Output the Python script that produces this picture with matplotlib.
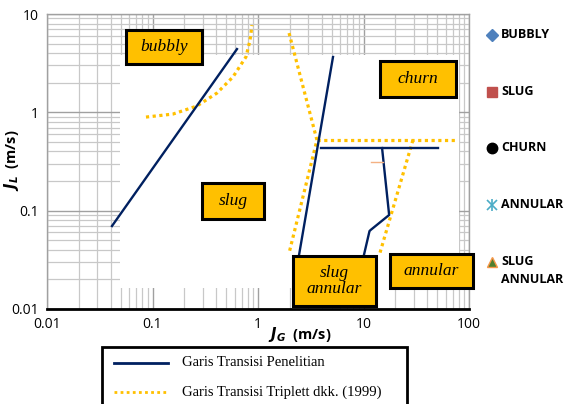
import matplotlib
matplotlib.use("Agg")
import matplotlib.pyplot as plt
from matplotlib.patches import Rectangle
from matplotlib.lines import Line2D
from matplotlib.ticker import LogLocator, NullFormatter, FixedLocator, FixedFormatter

# ---- data ----
xticks = [0.01, 0.1, 1, 10, 100]
xtick_labels = ["0.01", "0.1", "1", "10", "100"]
yticks = [0.01, 0.1, 1, 10]
ytick_labels = ["0.01", "0.1", "1", "10"]

# study transition lines (navy)
bs_x = [0.0413, 0.632]
bs_y = [0.0698, 4.4]
sc_x = [2.45, 5.14]
sc_y = [0.0355, 3.66]
ch_x = [3.95, 50.8]
ch_y = [0.433, 0.433]
ca_x = [15.0, 17.5, 11.7, 11.4, 10.1]
ca_y = [0.433, 0.0904, 0.0637, 0.062, 0.0355]

# small orange tick
or_x = [11.8, 15.3]
or_y = [0.312, 0.312]

# Triplett et al. (1999) transition lines (dotted gold)
tb_x = [0.0867, 0.156, 0.264, 0.408, 0.579, 0.769, 0.84, 0.877]
tb_y = [0.895, 0.96, 1.16, 1.57, 2.29, 3.66, 5.4, 7.7]
ts_x = [1.97, 3.62, 1.97]
ts_y = [6.4, 0.522, 0.037]
tc_x = [3.62, 73.6]
tc_y = [0.522, 0.522]
ta_x = [29.4, 14.3]
ta_y = [0.522, 0.037]

region_labels = ["bubbly", "slug", "churn", "slug\nannular", "annular"]
legend_labels = ["BUBBLY", "SLUG", "CHURN", "ANNULAR", "SLUG\nANNULAR"]
line_labels = ["Garis Transisi Penelitian", "Garis Transisi Triplett dkk. (1999)"]

NAVY = "#002060"
GOLD = "#FFC000"

W, H = 565, 404
fig = plt.figure(figsize=(W / 100, H / 100), dpi=100)
ax = fig.add_axes([47 / W, 1 - 309 / H, (469 - 47) / W, (309 - 14) / H])
ax.set_xscale("log")
ax.set_yscale("log")
ax.set_xlim(0.01, 100)
ax.set_ylim(0.01, 10)

ax.xaxis.set_major_locator(FixedLocator(xticks))
ax.xaxis.set_major_formatter(FixedFormatter(xtick_labels))
ax.yaxis.set_major_locator(FixedLocator(yticks))
ax.yaxis.set_major_formatter(FixedFormatter(ytick_labels))
ax.xaxis.set_minor_locator(LogLocator(base=10, subs=range(2, 10)))
ax.yaxis.set_minor_locator(LogLocator(base=10, subs=range(2, 10)))
ax.xaxis.set_minor_formatter(NullFormatter())
ax.yaxis.set_minor_formatter(NullFormatter())
ax.tick_params(which="both", length=0, labelsize=10, pad=6)
for lab in ax.get_xticklabels() + ax.get_yticklabels():
    lab.set_fontfamily("Open Sans")

ax.grid(which="major", color="#A0A0A0", linewidth=1.0, zorder=0)
ax.grid(which="minor", color="#C8C8C8", linewidth=0.9, zorder=0)
ax.set_axisbelow(True)

for s in ["left", "top", "right"]:
    ax.spines[s].set_color("#A0A0A0")
    ax.spines[s].set_linewidth(1.0)
ax.spines["bottom"].set_color("black")
ax.spines["bottom"].set_linewidth(2.0)

# white pasted area covering the grid
ax.add_patch(Rectangle((0.049, 0.0164), 80 - 0.049, 3.83 - 0.0164,
                       facecolor="white", edgecolor="none", zorder=1))

lw = 1.7
l1, = ax.plot(bs_x, bs_y, color=NAVY, lw=lw, zorder=3)
ax.plot(sc_x, sc_y, color=NAVY, lw=lw, zorder=3)
ax.plot(ch_x, ch_y, color=NAVY, lw=lw, zorder=3)
ax.plot(ca_x, ca_y, color=NAVY, lw=lw, zorder=3)
ax.plot(or_x, or_y, color="#F4B183", lw=1.0, zorder=3)

dlw = 2.3
dotted = []
for xs, ys_ in [(tb_x, tb_y), (ts_x, ts_y), (tc_x, tc_y), (ta_x, ta_y)]:
    ln, = ax.plot(xs, ys_, color=GOLD, lw=dlw, zorder=2, solid_capstyle="butt")
    ln.set_dashes([1.0, 1.1])
    ln.set_dash_capstyle("butt")
    dotted.append(ln)
l2 = dotted[0]

ax.set_xlabel(r"$\mathbfit{J}_{\mathbfit{G}}$  (m/s)", fontsize=10.5, fontweight="bold",
              fontfamily="Open Sans")
ax.set_ylabel(r"$\mathbfit{J}_{\mathbfit{L}}$  (m/s)", fontsize=10.5, fontweight="bold",
              fontfamily="Open Sans")
ax.xaxis.set_label_coords((300 - 47) / (469 - 47), -0.055)
ax.yaxis.set_label_coords((21 - 47) / (469 - 47), (309 - 160) / (309 - 14))

# region label boxes (pixel boxes in figure space)
boxes = [(126, 30, 202, 64), (202, 183, 264, 219), (380, 61, 456, 97),
         (293, 256, 376, 306), (390, 254, 473, 288)]
for (x0, y0, x1, y1), txt in zip(boxes, region_labels):
    fig.add_artist(Rectangle((x0 / W, 1 - y1 / H), (x1 - x0) / W, (y1 - y0) / H,
                             transform=fig.transFigure, facecolor=GOLD,
                             edgecolor="black", linewidth=2.2, zorder=5))
    fig.text((x0 + x1) / 2 / W, 1 - (y0 + y1) / 2 / H, txt, ha="center", va="center",
             fontsize=12.5, style="italic", fontfamily="Liberation Serif",
             linespacing=1.05, zorder=6)

# right marker legend
mk = [dict(marker="D", color="#4F81BD", ms=6, mec="#4F81BD"),
      dict(marker="s", color="#C0504D", ms=6.5, mec="#C0504D"),
      dict(marker="o", color="black", ms=7.5, mec="black"),
      dict(marker="x", color="#4BACC6", ms=7, mec="#4BACC6", mew=1.2),
      dict(marker="^", color="#4F7F2F", ms=7, mec="#F79646", mew=1.0)]
ys = [35, 92, 148, 205, 262]
for m, yy, lab in zip(mk, ys, legend_labels):
    fig.add_artist(Line2D([492 / W], [1 - yy / H], transform=fig.transFigure,
                          linestyle="none", **m))
    fig.text(501 / W, 1 - (yy - 7) / H, lab, ha="left", va="top", fontsize=9,
             fontweight="bold", fontfamily="Open Sans", linespacing=1.5)
fig.add_artist(Line2D([492 / W], [1 - 205 / H], transform=fig.transFigure,
                      linestyle="none", marker="|", color="#4BACC6", ms=8, mew=1.2))

# bottom line legend
fig.add_artist(Rectangle((102 / W, 1 - 412 / H), (407 - 102) / W, (412 - 347) / H,
                         transform=fig.transFigure, facecolor="white",
                         edgecolor="black", linewidth=2.0))
for yy, handle, lab in zip([363, 392], [l1, l2], line_labels):
    seg = Line2D([114 / W, 168 / W], [1 - yy / H, 1 - yy / H],
                 transform=fig.transFigure, color=handle.get_color(), lw=2.0)
    if handle is l2:
        seg.set_dashes([1.0, 1.2])
    fig.add_artist(seg)
    fig.text(182 / W, 1 - yy / H, lab, ha="left", va="center", fontsize=10.5,
             fontfamily="Liberation Serif")

fig.savefig("out.png", dpi=100)
